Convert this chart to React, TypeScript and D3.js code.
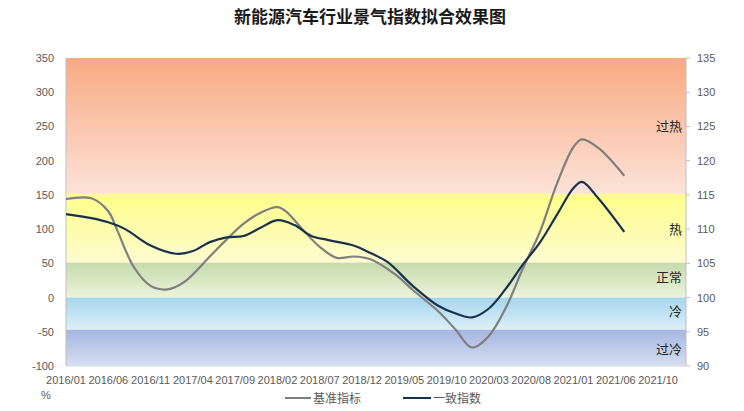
import React from "react";
import * as d3 from "d3";

// x positions are month offsets from 2016/01
const tickIdx = [0, 5, 10, 15, 20, 25, 30, 35, 40, 45, 50, 55, 60, 65, 70];
const tickLabels = [
  "2016/01", "2016/06", "2016/11", "2017/04", "2017/09", "2018/02", "2018/07",
  "2018/12", "2019/05", "2019/10", "2020/03", "2020/08", "2021/01", "2021/06", "2021/10",
];

// 基准指标 (left axis, %)
const baseIdx = [0, 3, 5, 6, 8, 10, 12, 14, 17, 19, 21, 23, 25, 26, 28, 30, 32, 34, 36, 39, 41, 44, 46, 48, 50, 52, 54, 56, 58, 60, 61, 63, 66];
const baseVals = [144, 145, 126, 100, 45, 17, 12, 23, 60, 85, 108, 124, 132, 126, 99, 74, 58, 60, 56, 33, 11, -20, -46, -73, -56, -15, 42, 95, 165, 220, 231, 218, 178];

// 一致指数 (right axis)
const coinIdx = [0, 3, 5, 7, 10, 13, 15, 17, 19, 21, 23, 25, 27, 29, 31, 34, 36, 38, 41, 44, 46, 48, 50, 52, 54, 56, 58, 60, 61, 63, 66];
const coinVals = [112.2, 111.6, 111.0, 110.0, 107.6, 106.4, 106.8, 108.1, 108.8, 109.0, 110.2, 111.3, 110.6, 109.0, 108.4, 107.6, 106.5, 105.2, 101.7, 98.8, 97.7, 97.1, 98.4, 101.3, 104.8, 108.0, 112.0, 116.0, 116.9, 114.4, 109.6];

const leftTicks = [350, 300, 250, 200, 150, 100, 50, 0, -50, -100];
const rightTicks = [135, 130, 125, 120, 115, 110, 105, 100, 95, 90];

const bandNames = ["过热", "热", "正常", "冷", "过冷"];
const bandTop = [350, 151, 51, 0, -47];
const bandBottom = [151, 51, 0, -47, -100];
const bandLabelAt = [125, 110, 103, 98, 92.5]; // right axis values
const bandColors = [
  ["#f8aa82", "#fde3d9"],
  ["#fefe8a", "#fffbd0"],
  ["#c5dbac", "#ecf3da"],
  ["#a6d6ec", "#dcf0f9"],
  ["#a4b6e0", "#d7def1"],
];

const W = 744;
const H = 411;
const left = 66;
const right = 686;
const top = 58;
const bottom = 366;

export default function App() {
  const x = d3.scaleLinear().domain([0, 73.3]).range([left, right]);
  const yL = d3.scaleLinear().domain([-100, 350]).range([bottom, top]);
  const yR = d3.scaleLinear().domain([90, 135]).range([bottom, top]);

  const baseLine = d3
    .line<number>()
    .x((_, i) => x(baseIdx[i]))
    .y((d) => yL(d))
    .curve(d3.curveCatmullRom.alpha(0.5));
  const coinLine = d3
    .line<number>()
    .x((_, i) => x(coinIdx[i]))
    .y((d) => yR(d))
    .curve(d3.curveCatmullRom.alpha(0.5));

  const font = "'Microsoft YaHei', 'Noto Sans CJK SC', sans-serif";
  const numFont = "'Liberation Sans', Arial, sans-serif";

  return (
    <svg width={W} height={H} style={{ position: "absolute", left: 0, top: 0, background: "#fff" }} fontFamily={font}>
      <defs>
        {bandColors.map((c, i) => (
          <linearGradient key={i} id={`band${i}`} x1="0" y1="0" x2="0" y2="1">
            <stop offset="0%" stopColor={c[0]} />
            <stop offset="100%" stopColor={c[1]} />
          </linearGradient>
        ))}
      </defs>

      <text x={370} y={23} textAnchor="middle" fontSize={17} fontWeight="bold" fill="#1a1a1a">
        新能源汽车行业景气指数拟合效果图
      </text>

      {bandNames.map((n, i) => (
        <rect
          key={n}
          x={left}
          y={yL(bandTop[i])}
          width={right - left}
          height={yL(bandBottom[i]) - yL(bandTop[i])}
          fill={`url(#band${i})`}
        />
      ))}
      {bandNames.map((n, i) => (
        <text key={n} x={682} y={yR(bandLabelAt[i]) + 5} textAnchor="end" fontSize={13} fill="#262626">
          {n}
        </text>
      ))}

      <line x1={left} x2={left} y1={top} y2={bottom} stroke="#bfbfbf" />
      <line x1={right} x2={right} y1={top} y2={bottom} stroke="#bfbfbf" />
      <line x1={left} x2={right} y1={bottom} y2={bottom} stroke="#d9d9d9" />

      <g fontFamily={numFont} fontSize={11} fill="#595959">
        {leftTicks.map((t) => (
          <text key={t} x={54} y={yL(t) + 4} textAnchor="end">
            {t}
          </text>
        ))}
        {rightTicks.map((t) => (
          <g key={t}>
            <line x1={right} x2={right + 4} y1={yR(t)} y2={yR(t)} stroke="#bfbfbf" />
            <text x={697} y={yR(t) + 4} textAnchor="start">
              {t}
            </text>
          </g>
        ))}
        {tickIdx.map((t, i) => (
          <text key={t} x={x(t)} y={384} textAnchor="middle">
            {tickLabels[i]}
          </text>
        ))}
        <text x={41} y={399}>%</text>
      </g>

      <path d={baseLine(baseVals) ?? ""} fill="none" stroke="#7f7f7f" strokeWidth={2.2} />
      <path d={coinLine(coinVals) ?? ""} fill="none" stroke="#17324f" strokeWidth={2.2} />

      <g fontSize={12} fill="#595959">
        <line x1={285} x2={311} y1={398} y2={398} stroke="#7f7f7f" strokeWidth={2} />
        <text x={313} y={403}>基准指标</text>
        <line x1={403} x2={431} y1={398} y2={398} stroke="#17324f" strokeWidth={2} />
        <text x={433} y={403}>一致指数</text>
      </g>
    </svg>
  );
}
